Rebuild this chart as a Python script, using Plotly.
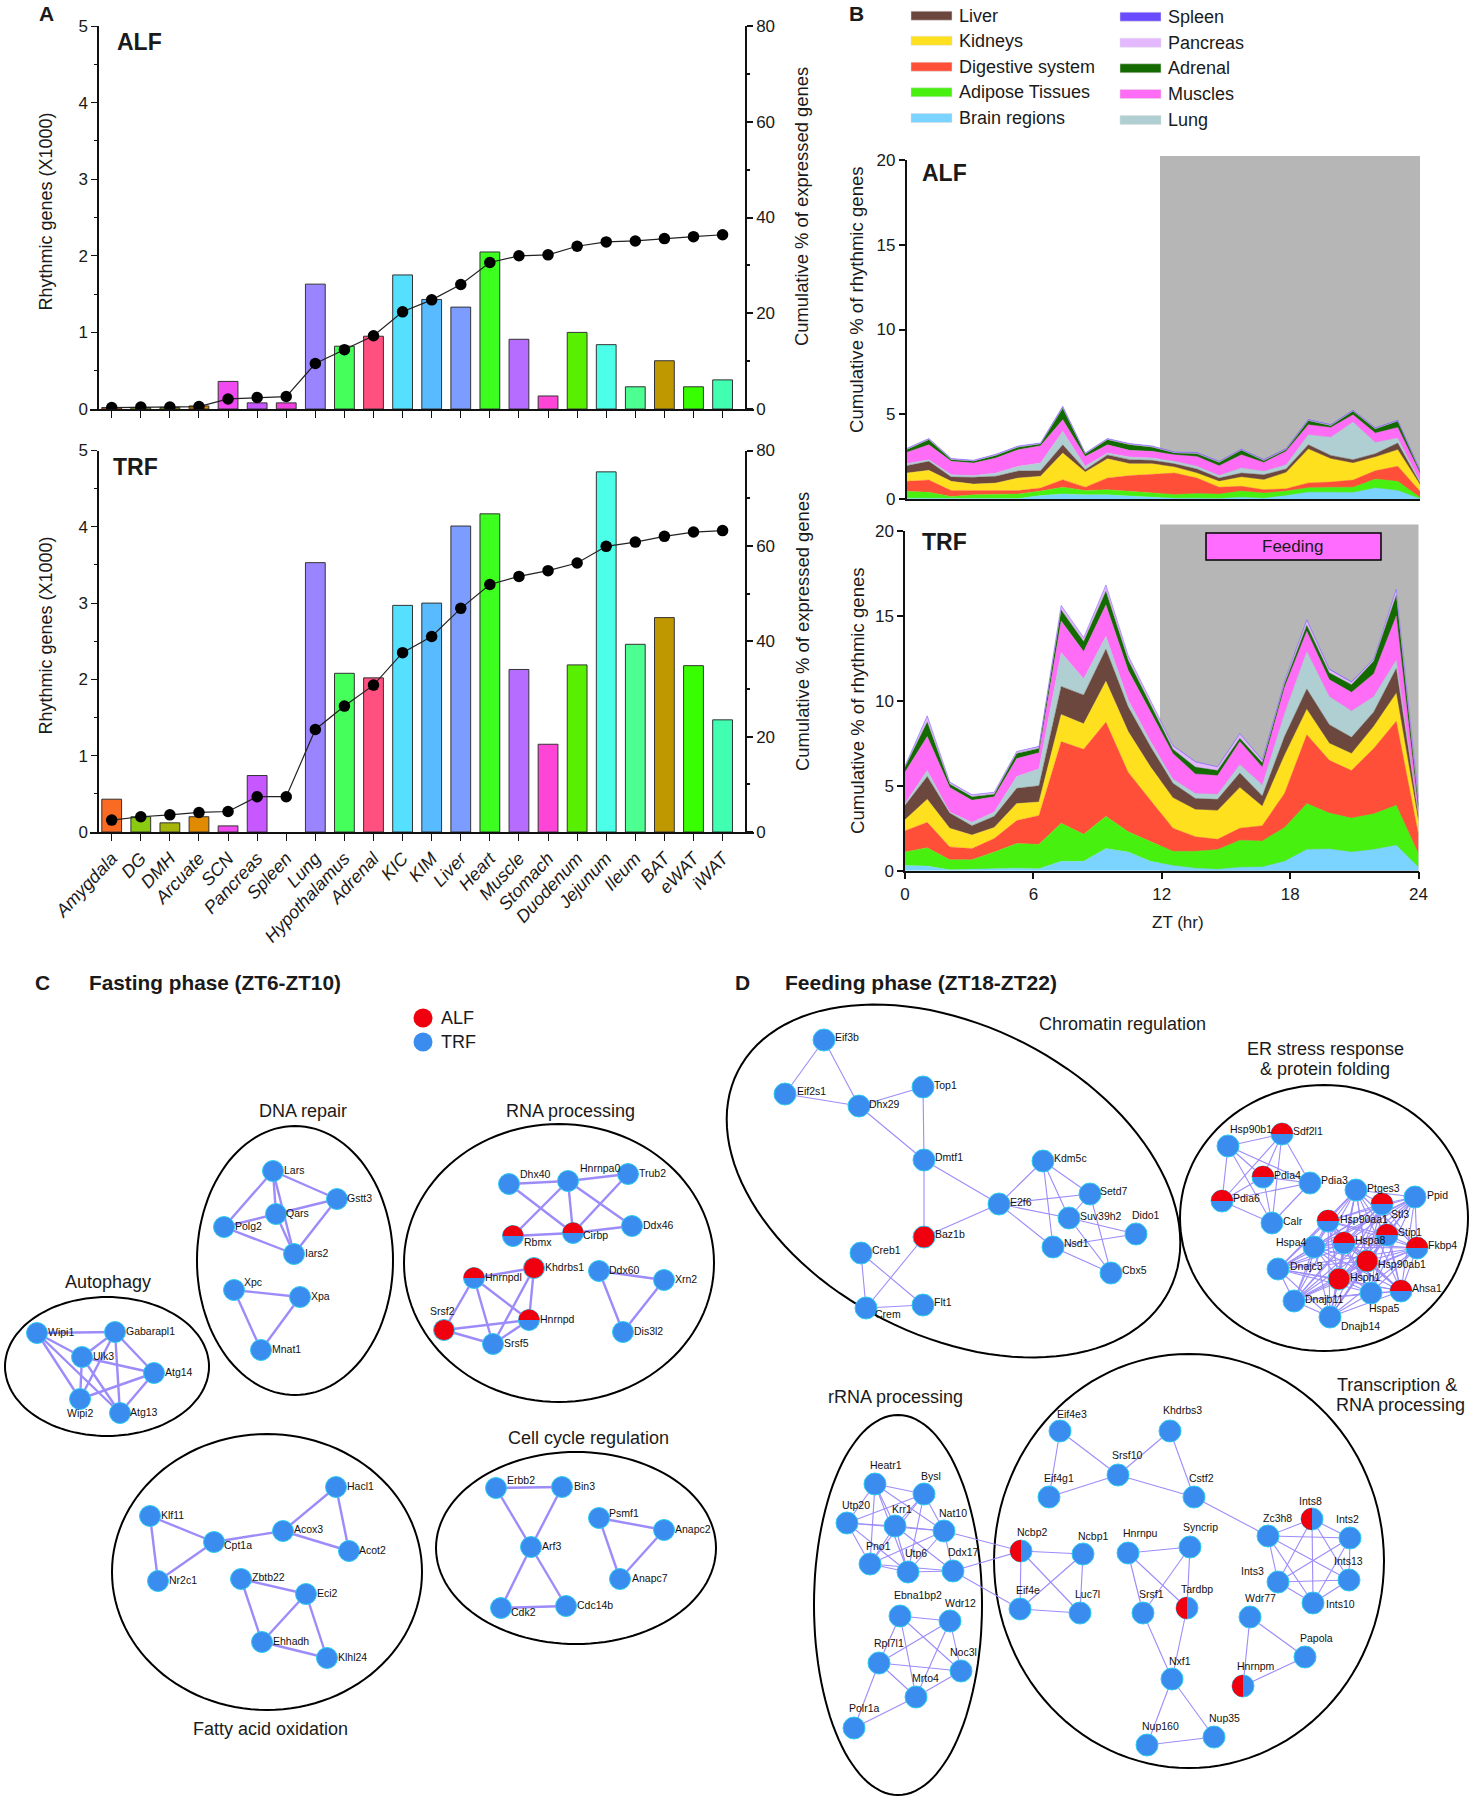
import itertools
import numpy as np
import plotly.graph_objects as go

W, H = 1473, 1800
FONT = "Liberation Sans"

# ---------- Panel A data ----------
TISSUES = ["Amygdala", "DG", "DMH", "Arcuate", "SCN", "Pancreas", "Spleen", "Lung", "Hypothalamus", "Adrenal",
           "KIC", "KIM", "Liver", "Heart", "Muscle", "Stomach", "Duodenum", "Jejunum", "Ileum", "BAT", "eWAT", "iWAT"]
TISSUE_COLORS = ["#F96A23", "#8ACB12", "#A5B50A", "#E08A00", "#F04BF0", "#C757FF", "#F040E0", "#9B84FF", "#45FF5A",
                 "#FF5080", "#55E0FF", "#58BAFF", "#7C9CFF", "#3CFF20", "#B56CFF", "#FF45D8", "#58F000", "#4CFFE8",
                 "#4CFF90", "#BF9800", "#38FF00", "#40FFB0"]
ALF_RHYTHMIC = [0.02, 0.02, 0.02, 0.04, 0.36, 0.08, 0.08, 1.63, 0.82, 0.95, 1.75, 1.43, 1.33, 2.05, 0.91, 0.17, 1.0,
                0.84, 0.29, 0.63, 0.29, 0.38]
TRF_RHYTHMIC = [0.43, 0.2, 0.12, 0.2, 0.08, 0.74, None, 3.53, 2.08, 2.02, 2.97, 3.0, 4.01, 4.17, 2.13, 1.15, 2.19,
                4.72, 2.46, 2.81, 2.18, 1.47]
ALF_CUMULATIVE = [0.3, 0.4, 0.4, 0.5, 2.1, 2.4, 2.6, 9.5, 12.4, 15.3, 20.3, 22.8, 26.0, 30.6, 32.0, 32.2, 34.0, 34.9,
                  35.1, 35.6, 36.0, 36.4]
TRF_CUMULATIVE = [2.5, 3.2, 3.6, 4.1, 4.3, 7.4, 7.4, 21.5, 26.4, 30.8, 37.6, 41.0, 46.9, 51.9, 53.6, 54.8, 56.4, 59.9,
                  60.8, 62.0, 62.9, 63.2]

# ---------- Panel B data (upper edge of each stacked layer) ----------
ZT = [0, 1.04, 2.09, 3.13, 4.17, 5.22, 6.26, 7.30, 8.35, 9.39, 10.43, 11.48, 12.52, 13.57, 14.61, 15.65, 16.70, 17.74,
      18.78, 19.83, 20.87, 21.91, 22.96, 24]
LAYER_NAMES = ["Brain regions", "Adipose Tissues", "Digestive system", "Kidneys", "Liver", "Lung", "Muscles",
               "Adrenal", "Pancreas", "Spleen"]
LAYER_COLORS = ["#7BD3FF", "#48F010", "#FF4F38", "#FFE01E", "#6B473E", "#AFCFD2", "#FF6CF5", "#136B00", "#E3B8FF",
                "#6A4BFF"]
ALF_BRAIN = [.05, .05, .03, .03, .03, .03, .2, .3, .25, .25, .18, .12, .05, .05, .03, .1, .05, .2, .4, .4, .38, .65, .5, .02]
ALF_ADIPOSE = [.45, .4, .15, .25, .28, .3, .47, .7, .5, .55, .45, .37, .27, .33, .29, .47, .35, .47, .67, .7, .7, 1.18, 1.04, .1]
ALF_DIGESTIVE = [1.04, 1.12, .5, .5, .5, .5, .65, 1.14, .7, 1.24, 1.38, 1.47, 1.53, 1.24, .7, .75, .55, .6, .95, 1.0, 1.12, 1.67, 1.93, .45]
ALF_KIDNEYS = [1.53, 1.69, 1.04, .88, .94, 1.24, 1.34, 2.71, 1.6, 2.38, 2.08, 2.08, 1.89, 1.53, 1.04, 1.3, 1.14, 1.57, 2.95, 2.38, 2.12, 2.48, 2.91, .85]
ALF_LIVER = [1.96, 2.22, 1.3, 1.28, 1.34, 1.65, 1.67, 3.2, 1.73, 2.6, 2.32, 2.28, 2.08, 1.77, 1.24, 1.53, 1.43, 1.77, 3.2, 2.57, 2.32, 2.67, 3.3, .94]
ALF_LUNG = [2.08, 2.32, 1.43, 1.38, 1.53, 1.93, 2.12, 3.99, 1.93, 2.71, 2.48, 2.42, 2.22, 1.93, 1.38, 1.83, 1.63, 2.02, 3.79, 3.65, 4.54, 3.34, 3.6, 1.04]
ALF_MUSCLES = [2.75, 3.2, 2.22, 2.12, 2.42, 2.91, 3.14, 4.68, 2.51, 3.2, 2.87, 2.81, 2.61, 2.51, 1.96, 2.61, 2.16, 2.81, 4.38, 4.22, 4.97, 3.89, 4.22, 1.53]
ALF_ADRENAL = [2.91, 3.5, 2.32, 2.22, 2.57, 3.06, 3.24, 5.36, 2.65, 3.5, 3.2, 3.06, 2.71, 2.67, 2.16, 2.87, 2.26, 2.91, 4.62, 4.32, 5.17, 4.13, 4.58, 1.63]
ALF_PANCREAS = [2.95, 3.54, 2.36, 2.26, 2.61, 3.1, 3.28, 5.42, 2.69, 3.54, 3.24, 3.1, 2.75, 2.71, 2.2, 2.91, 2.3, 2.95, 4.66, 4.36, 5.21, 4.17, 4.62, 1.67]
ALF_SPLEEN = [2.98, 3.57, 2.39, 2.29, 2.64, 3.13, 3.31, 5.47, 2.72, 3.57, 3.27, 3.13, 2.78, 2.74, 2.23, 2.94, 2.33, 2.98, 4.69, 4.39, 5.24, 4.2, 4.65, 1.7]
TRF_BRAIN = [.3, .27, .05, .07, .1, .15, .12, .55, .55, 1.3, 1.1, .55, .3, .15, .08, .2, .22, .55, 1.25, 1.28, 1.1, 1.25, 1.5, .2]
TRF_ADIPOSE = [1.1, 1.35, .65, .65, 1.1, 1.6, 1.55, 2.8, 2.15, 3.2, 2.3, 1.7, 1.15, 1.15, 1.25, 1.8, 1.75, 2.55, 3.95, 3.4, 3.1, 3.35, 3.85, 1.0]
TRF_DIGESTIVE = [2.35, 2.85, 1.4, 1.3, 1.9, 2.95, 3.25, 7.6, 7.15, 8.75, 5.8, 4.15, 2.5, 2.0, 1.85, 2.5, 2.65, 4.55, 8.0, 6.5, 5.9, 7.2, 8.8, 2.1]
TRF_KIDNEYS = [3.0, 4.2, 2.5, 2.1, 2.55, 3.95, 4.05, 9.2, 8.65, 11.15, 8.2, 6.1, 4.3, 3.6, 3.55, 4.9, 3.8, 6.8, 9.5, 7.5, 6.9, 8.5, 10.45, 2.9]
TRF_LIVER = [3.85, 5.55, 3.4, 2.65, 3.2, 4.85, 5.0, 10.85, 10.35, 13.05, 9.65, 7.3, 5.15, 4.25, 4.2, 5.75, 4.4, 7.9, 10.7, 8.6, 7.85, 9.35, 11.9, 3.2]
TRF_LUNG = [3.95, 5.9, 3.45, 2.85, 3.45, 5.55, 6.0, 12.85, 11.3, 13.8, 10.05, 7.6, 5.4, 4.55, 4.5, 6.25, 5.05, 9.25, 12.9, 10.25, 9.4, 10.25, 12.4, 3.3]
TRF_MUSCLES = [5.8, 7.9, 4.9, 4.15, 4.35, 6.6, 6.95, 14.7, 12.9, 15.65, 11.8, 9.35, 6.9, 5.7, 5.6, 7.6, 6.1, 10.8, 14.1, 11.25, 10.5, 11.6, 15.0, 3.55]
TRF_ADRENAL = [6.1, 8.75, 5.1, 4.35, 4.5, 6.9, 7.2, 15.35, 13.5, 16.45, 12.4, 9.75, 7.15, 6.1, 5.9, 7.8, 6.35, 11.0, 14.45, 11.65, 10.95, 12.35, 16.2, 3.85]
TRF_PANCREAS = [6.15, 9.1, 5.2, 4.45, 4.6, 7.0, 7.3, 15.6, 13.7, 16.8, 12.65, 10.0, 7.35, 6.4, 6.1, 8.05, 6.5, 11.15, 14.75, 11.85, 11.1, 12.45, 16.55, 4.3]
TRF_SPLEEN = [6.17, 9.12, 5.22, 4.47, 4.62, 7.02, 7.32, 15.62, 13.72, 16.82, 12.67, 10.02, 7.37, 6.42, 6.12, 8.07, 6.52, 11.17, 14.77, 11.87, 11.12, 12.47, 16.57, 4.32]
ALF_LAYERS = [ALF_BRAIN, ALF_ADIPOSE, ALF_DIGESTIVE, ALF_KIDNEYS, ALF_LIVER, ALF_LUNG, ALF_MUSCLES, ALF_ADRENAL, ALF_PANCREAS, ALF_SPLEEN]
TRF_LAYERS = [TRF_BRAIN, TRF_ADIPOSE, TRF_DIGESTIVE, TRF_KIDNEYS, TRF_LIVER, TRF_LUNG, TRF_MUSCLES, TRF_ADRENAL, TRF_PANCREAS, TRF_SPLEEN]

# ---------- Panels C and D data: name, node x, node y, state, label x, label y ----------
# state: T = TRF only, A = ALF only, H = both (red over blue), V = both (red beside blue)
NODES_C = [
    ("Wipi1", 37, 1333, "T", 48, 1333), ("Gabarapl1", 115, 1332, "T", 126, 1332), ("Ulk3", 82, 1357, "T", 93, 1357),
    ("Atg14", 154, 1373, "T", 165, 1373), ("Wipi2", 80, 1399, "T", 67, 1414), ("Atg13", 120, 1413, "T", 130, 1413),
    ("Lars", 273, 1171, "T", 284, 1171), ("Gstt3", 337, 1199, "T", 347, 1199), ("Qars", 276, 1214, "T", 286, 1214),
    ("Polg2", 224, 1227, "T", 235, 1227), ("Iars2", 294, 1254, "T", 305, 1254), ("Xpc", 234, 1290, "T", 244, 1283),
    ("Xpa", 300, 1297, "T", 311, 1297), ("Mnat1", 261, 1350, "T", 272, 1350),
    ("Dhx40", 509, 1184, "T", 520, 1175), ("Hnrnpa0", 568, 1181, "T", 580, 1169), ("Trub2", 628, 1174, "T", 639, 1174),
    ("Ddx46", 632, 1226, "T", 643, 1226), ("Rbmx", 513, 1236, "H", 524, 1243), ("Cirbp", 573, 1233, "H", 583, 1236),
    ("Hnrnpdl", 474, 1278, "H", 485, 1278), ("Khdrbs1", 534, 1268, "A", 545, 1268), ("Ddx60", 599, 1271, "T", 609, 1271),
    ("Xrn2", 664, 1280, "T", 675, 1280), ("Dis3l2", 623, 1332, "T", 634, 1332), ("Hnrnpd", 529, 1320, "H", 540, 1320),
    ("Srsf2", 444, 1330, "A", 430, 1312), ("Srsf5", 493, 1344, "T", 504, 1344),
    ("Klf11", 150, 1516, "T", 161, 1516), ("Cpt1a", 214, 1542, "T", 224, 1546), ("Acox3", 283, 1531, "T", 294, 1530),
    ("Hacl1", 336, 1487, "T", 347, 1487), ("Acot2", 349, 1551, "T", 359, 1551), ("Nr2c1", 158, 1581, "T", 169, 1581),
    ("Zbtb22", 241, 1579, "T", 252, 1578), ("Eci2", 306, 1594, "T", 317, 1594), ("Ehhadh", 262, 1642, "T", 273, 1642),
    ("Klhl24", 327, 1658, "T", 338, 1658),
    ("Erbb2", 496, 1488, "T", 507, 1481), ("Bin3", 562, 1487, "T", 574, 1487), ("Arf3", 531, 1547, "T", 542, 1547),
    ("Cdk2", 501, 1608, "T", 511, 1613), ("Cdc14b", 566, 1606, "T", 577, 1606), ("Psmf1", 599, 1518, "T", 609, 1514),
    ("Anapc2", 664, 1530, "T", 675, 1530), ("Anapc7", 620, 1579, "T", 632, 1579),
]
EDGES_C = """Wipi1-Gabarapl1 Wipi1-Ulk3 Wipi1-Wipi2 Wipi1-Atg13 Gabarapl1-Ulk3 Gabarapl1-Atg14 Gabarapl1-Wipi2 Gabarapl1-Atg13
Ulk3-Atg14 Ulk3-Wipi2 Ulk3-Atg13 Atg14-Wipi2 Atg14-Atg13 Lars-Gstt3 Lars-Polg2 Lars-Qars Lars-Iars2 Qars-Gstt3 Qars-Polg2
Qars-Iars2 Polg2-Iars2 Gstt3-Iars2 Xpc-Xpa Xpc-Mnat1 Xpa-Mnat1 Dhx40-Hnrnpa0 Dhx40-Cirbp Hnrnpa0-Trub2 Hnrnpa0-Rbmx
Hnrnpa0-Cirbp Hnrnpa0-Ddx46 Trub2-Cirbp Rbmx-Cirbp Cirbp-Ddx46 Hnrnpdl-Khdrbs1 Hnrnpdl-Srsf2 Hnrnpdl-Srsf5 Hnrnpdl-Hnrnpd
Khdrbs1-Hnrnpd Khdrbs1-Srsf5 Srsf2-Hnrnpd Srsf2-Srsf5 Srsf5-Hnrnpd Ddx60-Xrn2 Ddx60-Dis3l2 Xrn2-Dis3l2 Klf11-Cpt1a
Klf11-Nr2c1 Nr2c1-Cpt1a Cpt1a-Acox3 Acox3-Hacl1 Acox3-Acot2 Hacl1-Acot2 Zbtb22-Eci2 Zbtb22-Ehhadh Eci2-Ehhadh Eci2-Klhl24
Ehhadh-Klhl24 Erbb2-Bin3 Erbb2-Arf3 Bin3-Arf3 Arf3-Cdk2 Arf3-Cdc14b Cdk2-Cdc14b Psmf1-Anapc2 Psmf1-Anapc7 Anapc2-Anapc7""".split()

NODES_D = [
    ("Eif3b", 824, 1040, "T", 835, 1038), ("Eif2s1", 785, 1094, "T", 797, 1092), ("Dhx29", 859, 1106, "T", 869, 1105),
    ("Top1", 923, 1087, "T", 934, 1086), ("Dmtf1", 924, 1160, "T", 935, 1158), ("E2f6", 999, 1204, "T", 1010, 1203),
    ("Kdm5c", 1043, 1161, "T", 1054, 1159), ("Setd7", 1090, 1194, "T", 1100, 1192), ("Suv39h2", 1069, 1218, "T", 1080, 1217),
    ("Dido1", 1136, 1234, "T", 1132, 1216), ("Nsd1", 1053, 1247, "T", 1064, 1244), ("Cbx5", 1111, 1273, "T", 1122, 1271),
    ("Baz1b", 924, 1237, "A", 935, 1235), ("Creb1", 861, 1253, "T", 872, 1251), ("Crem", 866, 1308, "T", 875, 1315),
    ("Flt1", 923, 1305, "T", 934, 1303),
    ("Hsp90b1", 1228, 1146, "T", 1230, 1130), ("Sdf2l1", 1282, 1134, "H", 1293, 1132), ("Pdia4", 1263, 1177, "H", 1274, 1176),
    ("Pdia3", 1310, 1183, "T", 1321, 1181), ("Pdia6", 1222, 1201, "H", 1233, 1199), ("Calr", 1272, 1223, "T", 1283, 1222),
    ("Ptges3", 1356, 1190, "T", 1367, 1189), ("Ppid", 1415, 1197, "T", 1427, 1196), ("Stl3", 1382, 1204, "H", 1391, 1215),
    ("Hsp90aa1", 1328, 1221, "H", 1340, 1220), ("Stip1", 1387, 1235, "H", 1398, 1233), ("Hspa8", 1344, 1243, "H", 1355, 1241),
    ("Fkbp4", 1417, 1248, "H", 1428, 1246), ("Hspa4", 1314, 1247, "T", 1276, 1243), ("Dnajc3", 1278, 1269, "T", 1290, 1267),
    ("Hsp90ab1", 1367, 1261, "A", 1378, 1265), ("Hsph1", 1339, 1279, "A", 1350, 1278), ("Ahsa1", 1401, 1291, "H", 1412, 1289),
    ("Hspa5", 1371, 1293, "T", 1369, 1309), ("Dnajb11", 1294, 1301, "T", 1305, 1300), ("Dnajb14", 1330, 1317, "T", 1341, 1327),
    ("Heatr1", 875, 1484, "T", 870, 1466), ("Bysl", 924, 1494, "T", 921, 1477), ("Utp20", 847, 1523, "T", 842, 1506),
    ("Krr1", 895, 1526, "T", 892, 1510), ("Nat10", 944, 1531, "T", 939, 1514), ("Pno1", 870, 1564, "T", 866, 1547),
    ("Utp6", 908, 1572, "T", 905, 1554), ("Ddx17", 953, 1571, "T", 948, 1553), ("Ebna1bp2", 900, 1616, "T", 894, 1596),
    ("Wdr12", 950, 1621, "T", 945, 1604), ("Rpl7l1", 879, 1663, "T", 874, 1644), ("Noc3l", 961, 1671, "T", 950, 1653),
    ("Mrto4", 916, 1697, "T", 912, 1679), ("Polr1a", 854, 1728, "T", 849, 1709),
    ("Eif4e3", 1060, 1431, "T", 1057, 1415), ("Khdrbs3", 1170, 1431, "T", 1163, 1411), ("Srsf10", 1118, 1475, "T", 1112, 1456),
    ("Eif4g1", 1049, 1497, "T", 1044, 1479), ("Cstf2", 1194, 1497, "T", 1189, 1479), ("Zc3h8", 1268, 1536, "T", 1263, 1519),
    ("Ints8", 1312, 1519, "V", 1299, 1502), ("Ints2", 1350, 1538, "T", 1336, 1520), ("Ints13", 1349, 1580, "T", 1334, 1562),
    ("Ints3", 1278, 1582, "T", 1241, 1572), ("Ints10", 1313, 1603, "T", 1326, 1605), ("Ncbp2", 1021, 1551, "V", 1017, 1533),
    ("Ncbp1", 1083, 1554, "T", 1078, 1537), ("Hnrnpu", 1128, 1553, "T", 1123, 1534), ("Syncrip", 1190, 1547, "T", 1183, 1528),
    ("Eif4e", 1020, 1609, "T", 1016, 1591), ("Luc7l", 1080, 1613, "T", 1075, 1595), ("Srsf1", 1143, 1613, "T", 1139, 1595),
    ("Tardbp", 1187, 1608, "V", 1181, 1590), ("Wdr77", 1250, 1617, "T", 1245, 1599), ("Papola", 1305, 1657, "T", 1300, 1639),
    ("Hnrnpm", 1243, 1686, "V", 1237, 1667), ("Nxf1", 1172, 1679, "T", 1169, 1662), ("Nup160", 1147, 1745, "T", 1142, 1727),
    ("Nup35", 1214, 1737, "T", 1209, 1719),
]
EDGES_D = """Eif3b-Eif2s1 Eif3b-Dhx29 Eif2s1-Dhx29 Dhx29-Top1 Dhx29-Dmtf1 Top1-Dmtf1 Dmtf1-E2f6 Dmtf1-Baz1b Baz1b-E2f6 Baz1b-Crem
Creb1-Crem Creb1-Flt1 Crem-Flt1 E2f6-Kdm5c E2f6-Setd7 E2f6-Suv39h2 E2f6-Nsd1 Kdm5c-Setd7 Kdm5c-Suv39h2 Kdm5c-Nsd1 Setd7-Cbx5
Setd7-Suv39h2 Suv39h2-Dido1 Suv39h2-Cbx5 Nsd1-Dido1 Nsd1-Cbx5
Hsp90b1-Sdf2l1 Hsp90b1-Pdia4 Hsp90b1-Pdia3 Hsp90b1-Pdia6 Hsp90b1-Calr Sdf2l1-Pdia4 Sdf2l1-Pdia3 Sdf2l1-Pdia6 Sdf2l1-Calr
Pdia4-Pdia3 Pdia4-Pdia6 Pdia4-Calr Pdia3-Pdia6 Pdia3-Calr Pdia6-Calr
Heatr1-Bysl Heatr1-Utp20 Heatr1-Krr1 Heatr1-Nat10 Heatr1-Pno1 Heatr1-Utp6 Bysl-Utp20 Bysl-Krr1 Bysl-Nat10 Bysl-Utp6 Bysl-Pno1
Utp20-Krr1 Utp20-Nat10 Utp20-Pno1 Utp20-Utp6 Krr1-Nat10 Krr1-Pno1 Krr1-Utp6 Krr1-Ddx17 Nat10-Pno1 Nat10-Utp6 Nat10-Ddx17
Pno1-Utp6 Pno1-Ddx17 Utp6-Ddx17 Nat10-Ncbp2 Ddx17-Ncbp2 Ddx17-Eif4e
Ebna1bp2-Wdr12 Ebna1bp2-Rpl7l1 Ebna1bp2-Noc3l Ebna1bp2-Mrto4 Wdr12-Rpl7l1 Wdr12-Noc3l Wdr12-Mrto4 Rpl7l1-Noc3l Rpl7l1-Mrto4
Rpl7l1-Polr1a Noc3l-Mrto4 Mrto4-Polr1a
Eif4e3-Eif4g1 Eif4e3-Srsf10 Khdrbs3-Srsf10 Khdrbs3-Cstf2 Srsf10-Eif4g1 Srsf10-Cstf2 Cstf2-Zc3h8
Ncbp2-Ncbp1 Ncbp2-Eif4e Ncbp2-Luc7l Ncbp1-Eif4e Ncbp1-Luc7l Eif4e-Luc7l Hnrnpu-Syncrip Hnrnpu-Srsf1 Hnrnpu-Tardbp Syncrip-Srsf1
Syncrip-Tardbp Srsf1-Nxf1 Tardbp-Nxf1 Nxf1-Nup160 Nxf1-Nup35 Nup160-Nup35 Wdr77-Papola Wdr77-Hnrnpm Papola-Hnrnpm""".split()
HSP_CLIQUE = ["Ptges3", "Ppid", "Stl3", "Hsp90aa1", "Stip1", "Hspa8", "Fkbp4", "Hspa4", "Dnajc3", "Hsp90ab1", "Hsph1",
              "Ahsa1", "Hspa5", "Dnajb11", "Dnajb14"]
INTS_CLIQUE = ["Zc3h8", "Ints8", "Ints2", "Ints13", "Ints3", "Ints10"]

# cluster outlines: centre x, centre y, half-width, half-height, tilt in degrees
CLUSTERS_C = [(107, 1366.5, 102, 69.5, 0), (295, 1260.5, 98, 134.5, 0), (559, 1263, 155, 139, 0),
              (267, 1572, 155, 138, 0), (576, 1548, 140, 96, 0)]
CLUSTERS_D = [(953.5, 1181, 242, 155, 27), (1324, 1218, 144, 133, 0), (898, 1605, 84, 190, 0), (1189, 1561, 195, 207, 0)]

LEGEND_NODES = [("ALF", "#F0000F", 1018), ("TRF", "#3A8CEE", 1042)]
LEGEND_LEFT = [("Liver", "#6B473E", 15.7), ("Kidneys", "#FFE01E", 40.7), ("Digestive system", "#FF4F38", 66.7),
               ("Adipose Tissues", "#48F010", 92.3), ("Brain regions", "#7BD3FF", 118)]
LEGEND_RIGHT = [("Spleen", "#6A4BFF", 16.7), ("Pancreas", "#E3B8FF", 42.7), ("Adrenal", "#136B00", 68.3),
                ("Muscles", "#FF6CF5", 94), ("Lung", "#AFCFD2", 120)]

RED, BLUE, CYAN, EDGE = "#F0000F", "#3A8CEE", "#2FCDF0", "#9C8CFA"
INK = "#1a1a1a"


def px(x):
    return x / W


def py(y):
    return 1 - y / H


def xdom(a, b):
    return [px(a), px(b)]


def ydom(top, bottom):
    return [py(bottom), py(top)]


fig = go.Figure()

# ---- Panel A ----
for names_x, names_y_left, names_y_right, bars, line in [
    ("x", "y", "y2", ALF_RHYTHMIC, ALF_CUMULATIVE),
    ("x2", "y3", "y4", TRF_RHYTHMIC, TRF_CUMULATIVE),
]:
    fig.add_trace(go.Bar(x=TISSUES, y=bars, width=0.68, marker=dict(color=TISSUE_COLORS, line=dict(color="#333", width=1)),
                         xaxis=names_x, yaxis=names_y_left, showlegend=False))
    fig.add_trace(go.Scatter(x=TISSUES, y=line, mode="lines+markers", line=dict(color="#222", width=1.2),
                             marker=dict(color="#000", size=11.5), xaxis=names_x, yaxis=names_y_right, showlegend=False))

# ---- Panel B ----
for xa, ya, layers in [("x3", "y5", ALF_LAYERS), ("x4", "y6", TRF_LAYERS)]:
    for i, (vals, col, name) in enumerate(zip(layers, LAYER_COLORS, LAYER_NAMES)):
        fig.add_trace(go.Scatter(x=ZT, y=vals, mode="lines", name=name, line=dict(color=col, width=0.4),
                                 fill="tozeroy" if i == 0 else "tonexty", fillcolor=col, xaxis=xa, yaxis=ya,
                                 showlegend=False))

# ---- Panels C, D ----
all_edges_d = EDGES_D + ["-".join(p) for p in itertools.combinations(HSP_CLIQUE, 2)] + \
              ["-".join(p) for p in itertools.combinations(INTS_CLIQUE, 2)]

for nodes, edges, width, size in [(NODES_C, EDGES_C, 2.4, 21), (NODES_D, all_edges_d, 1.1, 22)]:
    pos = {n[0]: (n[1], n[2]) for n in nodes}
    ex, ey = [], []
    for e in edges:
        a, b = e.split("-")
        ex += [pos[a][0], pos[b][0], None]
        ey += [pos[a][1], pos[b][1], None]
    fig.add_trace(go.Scatter(x=ex, y=ey, mode="lines", line=dict(color=EDGE, width=width), xaxis="x5", yaxis="y7",
                             showlegend=False, hoverinfo="skip"))
    fig.add_trace(go.Scatter(x=[n[1] for n in nodes], y=[n[2] for n in nodes], mode="markers",
                             marker=dict(size=size, color=[RED if n[3] == "A" else BLUE for n in nodes],
                                         line=dict(color=CYAN, width=1)),
                             text=[n[0] for n in nodes], xaxis="x5", yaxis="y7", showlegend=False))
    hx, hy = [], []
    r = size / 2
    for n in nodes:
        if n[3] == "H":
            t = np.linspace(np.pi, 2 * np.pi, 25)
        elif n[3] == "V":
            t = np.linspace(np.pi / 2, 3 * np.pi / 2, 25)
        else:
            continue
        hx += list(n[1] + r * np.cos(t)) + [None]
        hy += list(n[2] + r * np.sin(t)) + [None]
    fig.add_trace(go.Scatter(x=hx, y=hy, mode="lines", fill="toself", fillcolor=RED, line=dict(width=0, color=RED),
                             xaxis="x5", yaxis="y7", showlegend=False, hoverinfo="skip"))
    fig.add_trace(go.Scatter(x=[n[4] for n in nodes], y=[n[5] for n in nodes], mode="text",
                             text=[n[0] for n in nodes], textposition="middle right",
                             textfont=dict(size=10.5, color="#111", family=FONT), xaxis="x5", yaxis="y7",
                             showlegend=False, hoverinfo="skip"))

fig.add_trace(go.Scatter(x=[423, 423], y=[e[2] for e in LEGEND_NODES], mode="markers",
                         marker=dict(size=19, color=[e[1] for e in LEGEND_NODES]), xaxis="x5", yaxis="y7",
                         showlegend=False, hoverinfo="skip"))

# ---- shapes ----
shapes = []
for x0, y0, x1, y1 in [(1160, 156, 1420, 499), (1160, 524.5, 1418.5, 870.7)]:
    shapes.append(dict(type="rect", xref="paper", yref="paper", x0=px(x0), x1=px(x1), y0=py(y0), y1=py(y1),
                       fillcolor="#B5B6B5", line=dict(width=0), layer="below"))
for cx, cy, a, b, tilt in CLUSTERS_C + CLUSTERS_D:
    t = np.linspace(0, 2 * np.pi, 121)[:-1]
    th = np.radians(tilt)
    xs = cx + a * np.cos(t) * np.cos(th) - b * np.sin(t) * np.sin(th)
    ys = cy + a * np.cos(t) * np.sin(th) + b * np.sin(t) * np.cos(th)
    path = "M " + " L ".join(f"{x:.1f},{y:.1f}" for x, y in zip(xs, ys)) + " Z"
    shapes.append(dict(type="path", path=path, xref="x5", yref="y7", line=dict(color="#000", width=2), layer="below"))
for entries, x0, x1 in [(LEGEND_LEFT, 911, 952), (LEGEND_RIGHT, 1120, 1161)]:
    for _, col, yc in entries:
        shapes.append(dict(type="rect", xref="paper", yref="paper", x0=px(x0), x1=px(x1), y0=py(yc - 4.5), y1=py(yc + 4.5),
                           fillcolor=col, line=dict(width=0.5, color="#ddd")))
shapes.append(dict(type="rect", xref="paper", yref="paper", x0=px(1206), x1=px(1381), y0=py(533), y1=py(560),
                   fillcolor="#FF6CFF", line=dict(color="#000", width=1.5)))

# ---- annotations ----
ann = []


def text(s, x, y, size=18, bold=False, anchor="center", angle=0, color=INK):
    if anchor == "left":
        x -= 2
    ann.append(dict(text=f"<b>{s}</b>" if bold else s, x=px(x), y=py(y), xref="paper", yref="paper", showarrow=False,
                    xanchor=anchor, yanchor="middle", textangle=angle, font=dict(family=FONT, size=size, color=color)))


text("A", 46.6, 13, 21, True)
text("B", 856, 13, 21, True)
text("C", 42, 982, 21, True)
text("D", 742, 982, 21, True)
text("ALF", 117, 42, 23, True, "left")
text("TRF", 113, 467, 23, True, "left")
text("ALF", 922, 173, 23, True, "left")
text("TRF", 922, 542, 23, True, "left")
text("Rhythmic genes (X1000)", 45.5, 212, angle=-90)
text("Rhythmic genes (X1000)", 45.5, 636, angle=-90)
text("Cumulative % of expressed genes", 802, 207, 18.4, angle=-90)
text("Cumulative % of expressed genes", 802, 632, 18.4, angle=-90)
text("Cumulative % of rhythmic genes", 857, 300, 18.6, angle=-90)
text("Cumulative % of rhythmic genes", 857, 701, 18.6, angle=-90)
text("ZT (hr)", 1178, 922, 17)
text("Feeding", 1292, 546, 17)
for entries, x in [(LEGEND_LEFT, 959), (LEGEND_RIGHT, 1168)]:
    for name, _, yc in entries:
        text(name, x, yc, 18, False, "left")
text("Fasting phase (ZT6-ZT10)", 89, 982, 20.8, True, "left")
text("Feeding phase (ZT18-ZT22)", 785, 982, 21, True, "left")
for name, _, yc in LEGEND_NODES:
    text(name, 441, yc, 18, False, "left")
text("DNA repair", 303, 1111)
text("RNA processing", 570, 1111)
text("Autophagy", 108, 1282)
text("Cell cycle regulation", 588, 1438)
text("Fatty acid oxidation", 270.5, 1729)
text("Chromatin regulation", 1122, 1024)
text("ER stress response", 1325, 1049)
text("&amp; protein folding", 1325, 1069)
text("rRNA processing", 895, 1397)
text("Transcription &amp;", 1397, 1385)
text("RNA processing", 1400, 1405)

# ---- axes ----
tickfont = dict(family=FONT, size=17, color=INK)
axis_common = dict(showgrid=False, zeroline=False, showline=True, linecolor="#111", linewidth=1.5, ticks="outside",
                   tickcolor="#111", tickfont=tickfont)


def cat_axis(anchor, labels):
    return dict(domain=xdom(90, 754), anchor=anchor, type="category", categoryorder="array", categoryarray=TISSUES,
                range=[-0.746, 22.08], ticklen=7, tickwidth=1, showticklabels=labels, tickangle=-47,
                **{k: v for k, v in axis_common.items() if k != "tickfont"},
                tickfont=dict(family=FONT, size=18, color=INK, style="italic"))


def left_axis(top, bottom):
    return dict(domain=ydom(top, bottom), anchor="free", position=px(98), range=[0, 5], dtick=1, ticklen=6, tickwidth=1,
                minor=dict(dtick=0.5, ticks="outside", ticklen=3, tickcolor="#111"), side="left", **axis_common)


def right_axis(over, top, bottom):
    return dict(domain=ydom(top, bottom), anchor="free", position=px(746), overlaying=over, side="right", range=[0, 80],
                dtick=20, ticklen=6, tickwidth=1.5, minor=dict(dtick=10, ticks="outside", ticklen=3, tickcolor="#111"),
                **axis_common)


def zt_axis(anchor, x0, x1, labels):
    d = dict(domain=xdom(x0, x1), anchor=anchor, range=[0, 24], tickvals=[0, 6, 12, 18, 24], showticklabels=labels,
             ticklen=7 if labels else 0, tickwidth=1.5, **axis_common)
    if not labels:
        d["ticks"] = ""
    return d


def pct_axis(anchor, top, bottom):
    return dict(domain=ydom(top, bottom), anchor=anchor, range=[0, 20], dtick=5, ticklen=6, tickwidth=1.5, **axis_common)


hidden = dict(visible=False, fixedrange=True, domain=[0, 1])

fig.update_layout(
    width=W, height=H, margin=dict(l=0, r=0, t=0, b=0, autoexpand=False), paper_bgcolor="#fff",
    plot_bgcolor="rgba(0,0,0,0)", showlegend=False, bargap=0.3, font=dict(family=FONT),
    xaxis=cat_axis("y", False), yaxis=left_axis(26, 409), yaxis2=right_axis("y", 25.5, 409),
    xaxis2=cat_axis("y3", True), yaxis3=left_axis(450.5, 832), yaxis4=right_axis("y3", 450.5, 832),
    xaxis3=zt_axis("y5", 906.6, 1420, False), yaxis5=pct_axis("x3", 160, 499),
    xaxis4=zt_axis("y6", 905, 1418.5, True), yaxis6=pct_axis("x4", 531, 870.7),
    xaxis5=dict(range=[0, W], anchor="y7", **hidden), yaxis7=dict(range=[H, 0], anchor="x5", **hidden),
    shapes=shapes, annotations=ann,
)

fig.write_html("out.html", post_script="document.body.style.margin='0';", config={"displayModeBar": False})
